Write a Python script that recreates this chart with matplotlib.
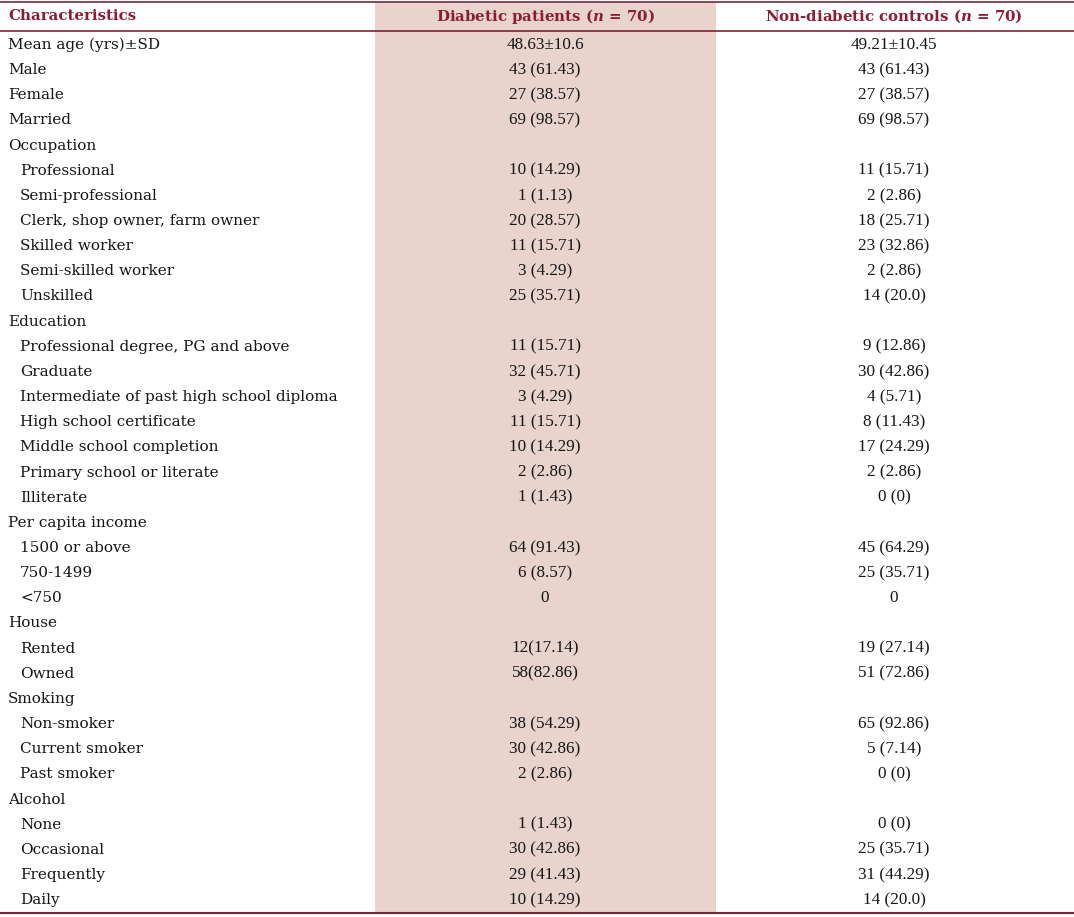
import matplotlib
matplotlib.use('Agg')
import matplotlib.pyplot as plt

# table content
headers = ["Characteristics", "Diabetic patients ($n$ = 70)", "Non-diabetic controls ($n$ = 70)"]

labels = ["Mean age (yrs)±SD", "Male", "Female", "Married",
          "Occupation", "Professional", "Semi-professional", "Clerk, shop owner, farm owner",
          "Skilled worker", "Semi-skilled worker", "Unskilled",
          "Education", "Professional degree, PG and above", "Graduate",
          "Intermediate of past high school diploma", "High school certificate",
          "Middle school completion", "Primary school or literate", "Illiterate",
          "Per capita income", "1500 or above", "750-1499", "<750",
          "House", "Rented", "Owned",
          "Smoking", "Non-smoker", "Current smoker", "Past smoker",
          "Alcohol", "None", "Occasional", "Frequently", "Daily"]

diabetic = ["48.63±10.6", "43 (61.43)", "27 (38.57)", "69 (98.57)",
            None, "10 (14.29)", "1 (1.13)", "20 (28.57)", "11 (15.71)", "3 (4.29)", "25 (35.71)",
            None, "11 (15.71)", "32 (45.71)", "3 (4.29)", "11 (15.71)", "10 (14.29)", "2 (2.86)", "1 (1.43)",
            None, "64 (91.43)", "6 (8.57)", "0",
            None, "12(17.14)", "58(82.86)",
            None, "38 (54.29)", "30 (42.86)", "2 (2.86)",
            None, "1 (1.43)", "30 (42.86)", "29 (41.43)", "10 (14.29)"]

controls = ["49.21±10.45", "43 (61.43)", "27 (38.57)", "69 (98.57)",
            None, "11 (15.71)", "2 (2.86)", "18 (25.71)", "23 (32.86)", "2 (2.86)", "14 (20.0)",
            None, "9 (12.86)", "30 (42.86)", "4 (5.71)", "8 (11.43)", "17 (24.29)", "2 (2.86)", "0 (0)",
            None, "45 (64.29)", "25 (35.71)", "0",
            None, "19 (27.14)", "51 (72.86)",
            None, "65 (92.86)", "5 (7.14)", "0 (0)",
            None, "0 (0)", "25 (35.71)", "31 (44.29)", "14 (20.0)"]

plt.rcParams['font.family'] = ['DejaVu Serif']
plt.rcParams['mathtext.fontset'] = 'custom'
plt.rcParams['mathtext.it'] = 'DejaVu Serif:italic:bold'
plt.rcParams['mathtext.rm'] = 'DejaVu Serif'

W, H = 1074, 917
fig = plt.figure(figsize=(W/100, H/100), dpi=100)
ax = fig.add_axes([0, 0, 1, 1])
ax.set_xlim(0, W)
ax.set_ylim(H, 0)
ax.axis('off')

red = '#8a1f33'
line_col = '#7a2535'
shade = '#e8d3cd'
ink = '#151515'

top = 2
head_y = 16
head_bot = 31
row0 = 45
dy = 25.15
bottom = row0 + dy*(len(labels)-1) + 13

col_x = [8, 545, 894]
ax.axvspan(375, 716, ymin=1-bottom/H, ymax=1-top/H, color=shade, lw=0)

ax.plot([0, W], [top, top], color=line_col, lw=1.2)
ax.plot([0, W], [head_bot, head_bot], color=line_col, lw=1.2)
ax.plot([0, W], [bottom, bottom], color=line_col, lw=1.5)

fs = 11
nfs = 12.3
hfs = 10.8
ax.text(col_x[0], head_y, headers[0], color=red, fontsize=hfs, fontweight='bold', va='center', ha='left')
ax.text(col_x[1], head_y, headers[1], color=red, fontsize=hfs, fontweight='bold', va='center', ha='center')
ax.text(col_x[2], head_y, headers[2], color=red, fontsize=hfs, fontweight='bold', va='center', ha='center')

seen_group = False
for i, lab in enumerate(labels):
    y = row0 + i*dy
    is_group = diabetic[i] is None
    if is_group:
        seen_group = True
        x = col_x[0]
    else:
        x = col_x[0] + (12 if seen_group else 0)
    ax.text(x, y, lab, fontsize=fs, va='center', ha='left', color=ink)
    if not is_group:
        ax.text(col_x[1], y, diabetic[i], fontsize=nfs, family='Liberation Serif',
                va='center', ha='center', color=ink)
        ax.text(col_x[2], y, controls[i], fontsize=nfs, family='Liberation Serif',
                va='center', ha='center', color=ink)

fig.savefig('out.png', dpi=100)
